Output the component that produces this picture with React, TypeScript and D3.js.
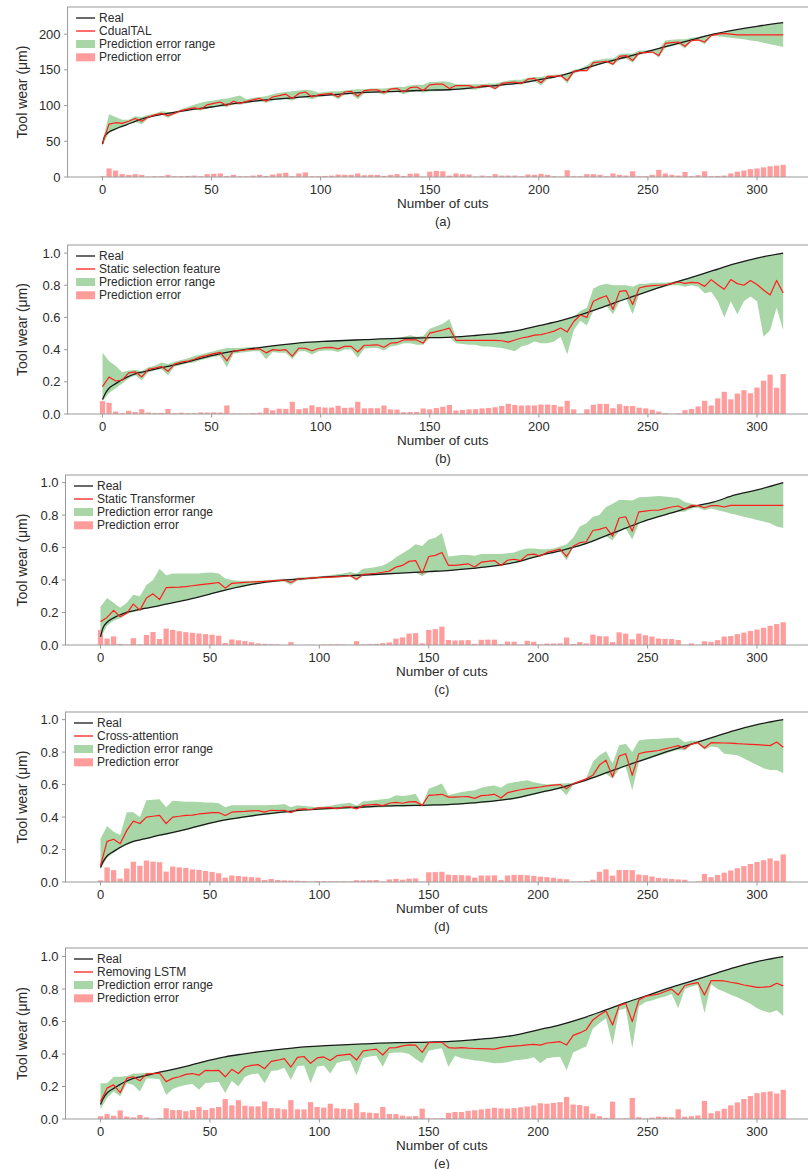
import React from "react";
import * as d3 from "d3";

// cut index of every predicted sample (one sample read every 3 cuts)
const cuts = d3.range(0, 313, 3);

// smooth measured wear curve, read at these cuts
const realCuts = [0, 1, 3, 5, 8, 11, 15, 20, 26, 30, 40, 50, 57, 65, 72, 84, 95, 103, 120, 135, 150, 160, 170, 180, 190, 200, 210, 220, 230, 240, 250, 260, 270, 280, 290, 300, 312];
const realA = [46, 57, 63, 66, 70, 73, 78, 83, 87, 89, 94, 98, 101.5, 104.5, 107, 110, 113, 114.5, 118.5, 120, 121.5, 122.5, 125, 128, 131, 136, 142, 151, 160, 168, 176, 184, 192, 200, 206, 211, 216];
const realNorm = [.09, .12, .16, .18, .205, .228, .25, .265, .285, .296, .327, .362, .383, .40, .413, .432, .446, .452, .462, .47, .474, .478, .487, .499, .518, .549, .58, .62, .667, .716, .762, .807, .849, .892, .934, .969, 1.0];
const realC = [.05, .10, .14, .16, .18, .197, .21, .225, .24, .252, .28, .314, .338, .362, .38, .40, .41, .42, .431, .441, .452, .46, .472, .487, .51, .548, .58, .616, .667, .72, .77, .81, .85, .88, .924, .955, 1.0];

// (a) CdualTAL, in µm
const predA = [
  47, 74, 76, 75, 78, 82, 78, 84, 87, 89,
  86, 89, 93, 95, 97, 95, 101, 103, 105, 100,
  106, 103, 106, 108, 110, 106, 112, 114, 116, 110,
  117, 119, 112, 115, 116, 117, 112, 119, 120, 113,
  121, 122, 122, 118, 123, 124, 119, 125, 126, 121,
  129, 130, 130, 124, 128, 128, 128, 125, 128, 128,
  124, 131, 132, 133, 131, 137, 138, 132, 141, 141,
  142, 135, 148, 149, 149, 160, 161, 162, 158, 169,
  170, 163, 174, 174, 175, 170, 187, 188, 189, 183,
  191, 192, 189, 198, 200, 201, 200, 199, 199, 199,
  199, 199, 199, 199, 199];
const hiA = [
  50, 88, 84, 80, 80, 85, 84, 87, 89, 92,
  91, 91, 95, 98, 101, 104, 106, 107, 109, 110,
  112, 114, 109, 111, 112, 113, 116, 118, 119, 120,
  121, 122, 121, 118, 119, 120, 120, 121, 122, 123,
  123, 124, 124, 124, 125, 126, 126, 128, 129, 129,
  133, 133, 134, 133, 130, 130, 130, 130, 130, 131,
  131, 133, 135, 136, 136, 139, 140, 140, 142, 143,
  144, 145, 150, 152, 156, 163, 164, 166, 166, 172,
  173, 173, 177, 177, 178, 180, 191, 192, 193, 193,
  195, 196, 198, 200, 202, 203, 205, 206.5, 208, 210,
  211, 212.5, 214, 215, 216];
const loA = [
  44, 62, 66, 70, 74, 77, 74, 82, 85, 87,
  83, 88, 91, 93, 94, 93, 96, 98, 99, 98,
  102, 101, 103, 105, 106, 104, 107, 108, 109, 107,
  111, 111, 109, 112, 113, 114, 109, 115, 116, 109,
  117, 118, 118, 115, 119, 119, 116, 119, 120, 118,
  120, 120, 121, 121, 122, 122, 123, 122, 125, 126,
  122, 128, 129, 130, 129, 132, 134, 128, 137, 139,
  141, 131, 145, 148, 148, 155, 157, 160, 156, 164,
  166, 160, 171, 173, 175, 167, 181, 183, 186, 180,
  190, 191, 186, 197, 197, 196, 195, 194, 193, 191,
  190, 188, 186, 184, 182];
const errA = [
  1, 12, 9, 4, 3, 4, 3, 0.5, 1, 1,
  3, 1, 1, 1.5, 2, 1, 4, 4.5, 5, 1.5,
  3, 1, 1, 2, 3, 1.5, 3.5, 5, 6, 1,
  5, 6.5, 1, 1, 1.5, 2, 3.5, 3, 3, 5,
  2.5, 3, 3, 1.5, 3, 4, 1.5, 4.5, 5, 0.5,
  7.5, 8.5, 8, 2, 5, 4, 3.5, 0.5, 2, 1,
  4, 2, 2, 2, 1, 3.5, 3, 4.5, 3, 1,
  0.5, 9.5, 1, 1, 4, 4, 3, 1, 5, 3,
  2, 8, 1, 1, 3, 10, 5, 3, 2, 7,
  1, 2.5, 8, 1, 1.5, 2, 5, 7.5, 9, 11,
  12, 13.5, 15, 16, 17];

// (b) Static selection feature
const predB = [
  .17, .23, .205, .21, .255, .262, .23, .277, .285, .295,
  .265, .31, .323, .328, .34, .355, .364, .375, .383, .33,
  .393, .393, .40, .402, .405, .38, .40, .395, .40, .36,
  .41, .408, .393, .407, .412, .414, .405, .42, .42, .385,
  .427, .428, .43, .415, .44, .443, .46, .46, .46, .44,
  .503, .512, .522, .534, .458, .458, .457, .458, .457, .458,
  .457, .455, .447, .46, .472, .479, .49, .493, .503, .515,
  .534, .51, .575, .615, .60, .70, .72, .735, .65, .762,
  .766, .68, .783, .793, .797, .80, .803, .81, .82, .812,
  .818, .815, .793, .835, .803, .775, .835, .81, .80, .83,
  .805, .77, .74, .83, .752];
const hiB = [
  .38, .33, .30, .26, .27, .275, .265, .29, .30, .32,
  .31, .325, .335, .345, .36, .37, .38, .39, .40, .41,
  .41, .41, .415, .415, .415, .42, .425, .43, .432, .436,
  .44, .444, .447, .45, .452, .454, .456, .458, .46, .461,
  .462, .464, .466, .468, .469, .47, .48, .49, .48, .485,
  .53, .545, .56, .59, .48, .483, .486, .488, .492, .495,
  .499, .505, .51, .516, .524, .533, .543, .552, .562, .571,
  .58, .592, .604, .64, .66, .78, .80, .81, .80, .80,
  .80, .79, .81, .81, .815, .815, .815, .82, .83, .84,
  .849, .862, .875, .888, .9, .913, .926, .937, .948, .959,
  .969, .977, .985, .993, 1.0];
const loB = [
  .08, .13, .16, .19, .22, .24, .21, .26, .27, .28,
  .24, .295, .305, .315, .32, .335, .345, .355, .36, .29,
  .375, .38, .385, .39, .39, .34, .385, .38, .38, .34,
  .39, .39, .37, .39, .395, .395, .385, .40, .40, .35,
  .405, .41, .41, .395, .42, .425, .44, .44, .43, .43,
  .472, .473, .475, .478, .44, .435, .43, .43, .42, .42,
  .415, .41, .40, .39, .42, .43, .45, .44, .44, .45,
  .48, .37, .52, .58, .55, .643, .657, .672, .62, .701,
  .716, .62, .744, .758, .771, .78, .79, .80, .80, .79,
  .80, .79, .75, .76, .70, .60, .70, .62, .70, .73,
  .70, .48, .52, .66, .52];
const errB = [
  .08, .07, .015, .005, .02, .012, .03, .009, .005, .007,
  .031, .005, .008, .005, .005, .01, .009, .01, .009, .053,
  .003, .003, .002, .006, .008, .038, .023, .033, .032, .076,
  .03, .036, .054, .043, .04, .04, .051, .038, .04, .076,
  .035, .036, .036, .053, .029, .027, .011, .012, .013, .034,
  .029, .037, .045, .056, .022, .025, .029, .03, .035, .037,
  .042, .05, .063, .056, .052, .054, .053, .059, .059, .056,
  .046, .082, .029, .001, .029, .057, .063, .063, .036, .061,
  .05, .05, .039, .035, .026, .015, .005, .001, .004, .024,
  .031, .047, .082, .053, .097, .138, .091, .127, .148, .129,
  .164, .207, .245, .163, .248];

// (c) Static Transformer
const predC = [
  .143, .17, .213, .174, .195, .252, .215, .29, .315, .28,
  .353, .355, .357, .36, .365, .37, .375, .38, .385, .35,
  .38, .383, .386, .388, .39, .392, .395, .398, .40, .385,
  .405, .408, .412, .415, .416, .418, .42, .422, .428, .405,
  .435, .438, .442, .448, .455, .48, .49, .515, .52, .44,
  .545, .552, .57, .49, .49, .495, .50, .48, .51, .515,
  .52, .49, .522, .528, .52, .555, .56, .548, .57, .58,
  .59, .545, .608, .63, .636, .705, .712, .725, .67, .782,
  .79, .70, .82, .825, .83, .83, .84, .85, .856, .836,
  .86, .858, .845, .858, .858, .85, .86, .86, .86, .86,
  .86, .86, .86, .86, .86];
const hiC = [
  .236, .29, .26, .23, .26, .31, .30, .37, .40, .47,
  .43, .44, .44, .44, .44, .44, .445, .447, .44, .41,
  .40, .395, .395, .395, .395, .40, .40, .405, .41, .40,
  .415, .418, .42, .422, .425, .43, .435, .44, .45, .44,
  .47, .475, .48, .49, .51, .54, .565, .59, .62, .61,
  .65, .66, .69, .545, .55, .555, .555, .55, .56, .56,
  .56, .56, .565, .57, .585, .595, .595, .59, .59, .595,
  .606, .62, .66, .73, .75, .79, .80, .85, .87, .893,
  .893, .89, .91, .912, .915, .918, .915, .91, .905, .88,
  .87, .862, .868, .877, .888, .902, .915, .927, .936, .946,
  .955, .966, .978, .989, 1.0];
const loC = [
  .04, .12, .15, .165, .19, .205, .21, .225, .232, .24,
  .25, .26, .27, .279, .288, .297, .306, .315, .326, .335,
  .344, .352, .36, .368, .375, .38, .385, .39, .39, .37,
  .398, .40, .404, .408, .41, .412, .415, .418, .42, .395,
  .425, .428, .43, .432, .435, .438, .44, .443, .445, .425,
  .45, .452, .455, .457, .46, .464, .468, .47, .476, .48,
  .485, .485, .50, .506, .514, .527, .538, .545, .558, .568,
  .578, .52, .60, .61, .62, .64, .655, .67, .645, .70,
  .718, .65, .748, .762, .776, .788, .80, .81, .82, .82,
  .84, .845, .83, .84, .83, .82, .81, .80, .79, .78,
  .77, .76, .75, .73, .72];
const errC = [
  .093, .04, .053, .006, .003, .042, .004, .062, .08, .037,
  .101, .093, .085, .079, .075, .071, .067, .063, .057, .012,
  .034, .029, .024, .017, .01, .007, .005, .003, .0, .018,
  .0, .0, .001, .0, .003, .004, .004, .003, .001, .024,
  .004, .005, .007, .011, .016, .039, .047, .07, .073, .01,
  .093, .098, .113, .031, .028, .029, .03, .007, .032, .033,
  .033, .004, .021, .02, .003, .026, .02, .003, .009, .009,
  .01, .046, .006, .018, .01, .064, .055, .053, .018, .078,
  .07, .035, .07, .06, .052, .04, .038, .037, .031, .001,
  .01, .001, .023, .019, .03, .052, .055, .067, .076, .086,
  .095, .106, .118, .129, .14];

// (d) Cross-attention
const predD = [
  .10, .25, .263, .236, .318, .375, .36, .40, .405, .41,
  .36, .40, .405, .41, .412, .419, .423, .427, .428, .41,
  .43, .433, .435, .438, .44, .43, .442, .44, .442, .427,
  .448, .45, .445, .456, .457, .458, .452, .462, .463, .45,
  .472, .475, .478, .47, .485, .49, .485, .493, .495, .472,
  .534, .536, .54, .523, .523, .525, .526, .515, .532, .535,
  .54, .517, .55, .56, .568, .575, .58, .585, .592, .597,
  .60, .575, .606, .62, .635, .657, .72, .75, .647, .775,
  .79, .657, .79, .80, .805, .81, .82, .83, .84, .822,
  .85, .858, .825, .858, .857, .856, .855, .852, .85, .848,
  .846, .843, .84, .862, .83];
const hiD = [
  .267, .345, .31, .29, .43, .43, .40, .503, .506, .51,
  .46, .50, .497, .495, .495, .493, .49, .489, .485, .46,
  .472, .472, .472, .472, .472, .472, .474, .476, .48, .46,
  .472, .468, .465, .462, .465, .47, .478, .483, .488, .47,
  .497, .50, .505, .51, .515, .534, .53, .534, .544, .475,
  .575, .59, .606, .534, .545, .554, .56, .565, .58, .59,
  .595, .58, .606, .615, .62, .626, .615, .606, .60, .603,
  .606, .608, .61, .625, .64, .74, .78, .805, .73, .842,
  .852, .80, .872, .878, .881, .883, .885, .887, .89, .86,
  .872, .868, .875, .888, .9, .913, .926, .937, .948, .959,
  .969, .977, .985, .993, 1.0];
const loD = [
  .08, .15, .18, .21, .23, .245, .255, .265, .275, .283,
  .29, .30, .31, .318, .33, .34, .35, .36, .37, .378,
  .385, .39, .397, .403, .408, .413, .418, .423, .427, .425,
  .435, .438, .44, .443, .445, .447, .448, .45, .452, .448,
  .455, .457, .459, .46, .462, .463, .464, .465, .466, .465,
  .468, .469, .47, .472, .474, .477, .48, .482, .486, .49,
  .494, .50, .505, .51, .518, .527, .537, .546, .556, .565,
  .575, .534, .598, .61, .62, .637, .651, .666, .637, .695,
  .71, .565, .738, .752, .765, .778, .79, .803, .815, .81,
  .842, .85, .815, .835, .83, .79, .785, .78, .76, .74,
  .72, .70, .69, .69, .67];
const errD = [
  .01, .09, .073, .021, .083, .125, .10, .132, .125, .122,
  .064, .095, .09, .087, .077, .074, .068, .062, .054, .027,
  .04, .037, .033, .03, .027, .012, .019, .012, .01, .009,
  .008, .006, .002, .006, .005, .004, .004, .004, .003, .011,
  .01, .011, .012, .002, .016, .02, .014, .021, .022, .002,
  .06, .061, .063, .045, .043, .042, .04, .027, .04, .04,
  .041, .012, .04, .044, .044, .042, .037, .033, .03, .026,
  .02, .017, .002, .004, .006, .014, .063, .078, .039, .074,
  .074, .073, .046, .042, .034, .025, .022, .019, .016, .014,
  .001, .004, .05, .03, .043, .057, .071, .085, .098, .111,
  .123, .134, .145, .131, .17];

// (e) Removing LSTM
const predE = [
  .107, .19, .21, .162, .25, .26, .235, .278, .28, .283,
  .23, .25, .26, .275, .28, .27, .30, .298, .30, .26,
  .306, .28, .32, .33, .335, .31, .355, .362, .372, .32,
  .38, .385, .343, .376, .382, .36, .39, .395, .40, .363,
  .42, .425, .43, .394, .438, .44, .45, .456, .455, .41,
  .47, .471, .472, .44, .437, .44, .436, .434, .433, .432,
  .43, .44, .446, .449, .452, .456, .46, .455, .468, .472,
  .476, .456, .515, .53, .55, .61, .64, .665, .579, .698,
  .712, .60, .733, .755, .762, .77, .785, .80, .764, .822,
  .832, .84, .764, .852, .852, .85, .842, .835, .825, .818,
  .81, .812, .815, .836, .82];
const hiE = [
  .22, .22, .26, .26, .265, .28, .28, .285, .285, .29,
  .296, .305, .315, .323, .335, .345, .355, .365, .374, .383,
  .39, .396, .402, .408, .413, .418, .423, .428, .432, .436,
  .44, .444, .447, .45, .452, .454, .456, .458, .46, .461,
  .462, .464, .466, .468, .469, .47, .471, .472, .473, .474,
  .474, .475, .477, .478, .48, .483, .486, .488, .492, .495,
  .499, .505, .51, .516, .524, .533, .543, .552, .562, .571,
  .58, .592, .604, .616, .629, .643, .657, .672, .686, .701,
  .716, .73, .744, .758, .771, .785, .798, .811, .824, .836,
  .849, .862, .875, .888, .9, .913, .926, .937, .948, .959,
  .969, .977, .985, .993, 1.0];
const loE = [
  .06, .13, .17, .14, .22, .21, .17, .25, .25, .245,
  .148, .185, .20, .21, .215, .18, .222, .225, .23, .16,
  .235, .20, .26, .275, .28, .22, .295, .30, .315, .24,
  .325, .33, .22, .322, .33, .28, .345, .355, .36, .27,
  .375, .385, .39, .322, .405, .41, .41, .40, .37, .343,
  .42, .43, .435, .322, .39, .374, .368, .36, .357, .35,
  .343, .345, .35, .36, .365, .37, .38, .343, .374, .38,
  .384, .30, .41, .43, .446, .558, .59, .62, .456, .67,
  .682, .435, .692, .72, .73, .743, .755, .77, .682, .80,
  .815, .825, .651, .83, .80, .784, .765, .75, .73, .71,
  .682, .665, .655, .67, .634];
const errE = [
  .017, .03, .02, .053, .015, .01, .025, .01, .0, .005,
  .066, .055, .055, .048, .055, .075, .055, .067, .074, .123,
  .084, .116, .082, .078, .078, .108, .068, .066, .06, .116,
  .06, .059, .104, .074, .07, .094, .066, .063, .06, .098,
  .042, .039, .036, .074, .031, .03, .021, .016, .018, .064,
  .004, .004, .005, .038, .043, .043, .05, .054, .059, .063,
  .069, .065, .064, .067, .072, .077, .083, .097, .094, .099,
  .104, .136, .089, .086, .079, .033, .017, .007, .107, .003,
  .004, .13, .011, .003, .009, .015, .013, .011, .06, .014,
  .017, .022, .111, .036, .048, .063, .084, .102, .123, .141,
  .159, .165, .17, .157, .18];

const ticksA = [0, 50, 100, 150, 200];
const ticksNorm = [0, 0.2, 0.4, 0.6, 0.8, 1.0];
const xTicks = [0, 50, 100, 150, 200, 250, 300];

const panels = [
  { tag: "(a)", model: "CdualTAL", real: realA, pred: predA, lo: loA, hi: hiA, err: errA, yTicks: ticksA, fmt: d3.format("d") },
  { tag: "(b)", model: "Static selection feature", real: realNorm, pred: predB, lo: loB, hi: hiB, err: errB, yTicks: ticksNorm, fmt: d3.format(".1f") },
  { tag: "(c)", model: "Static Transformer", real: realC, pred: predC, lo: loC, hi: hiC, err: errC, yTicks: ticksNorm, fmt: d3.format(".1f") },
  { tag: "(d)", model: "Cross-attention", real: realNorm, pred: predD, lo: loD, hi: hiD, err: errD, yTicks: ticksNorm, fmt: d3.format(".1f") },
  { tag: "(e)", model: "Removing LSTM", real: realNorm, pred: predE, lo: loE, hi: hiE, err: errE, yTicks: ticksNorm, fmt: d3.format(".1f") },
];

// where each panel sits on the page
const layout = [
  { top: 7, bottom: 177, x0: 102.5, yMax: 238 },
  { top: 245, bottom: 414, x0: 102.5, yMax: 1.05 },
  { top: 475, bottom: 645, x0: 100.5, yMax: 1.047 },
  { top: 712, bottom: 882, x0: 100.5, yMax: 1.047 },
  { top: 948, bottom: 1119, x0: 100.5, yMax: 1.053 },
];

const FONT = "'Liberation Sans', Arial, Helvetica, sans-serif";
const TEXT = "#2b2b2b";
const SPINE = "#9a9a9a";
const GREEN = "#a9d6a6";
const PINK = "#ff9d9d";
const RED = "#ff1e1e";

function Panel({ p, box, idx }) {
  const k = (757 - box.x0) / 300;
  const x = d3.scaleLinear().domain([-16, 328]).range([box.x0 - 16 * k, box.x0 + 328 * k]);
  const y = d3.scaleLinear().domain([0, box.yMax]).range([box.bottom, box.top]);
  const [x1, x2] = x.range();

  const band = d3.area<number>()
    .x((d) => x(d))
    .y0((_, i) => y(p.lo[i]))
    .y1((_, i) => y(p.hi[i]))(cuts);
  const predPath = d3.line<number>()
    .x((d) => x(d))
    .y((_, i) => y(p.pred[i]))(cuts);
  const realPath = d3.line<number>()
    .x((d) => x(d))
    .y((_, i) => y(p.real[i]))
    .curve(d3.curveMonotoneX)(realCuts);

  const bw = x(3) - x(0) - 1.3;
  const clipId = `plot-clip-${idx}`;
  const midX = (x1 + x2) / 2;
  const midY = (box.top + box.bottom) / 2;
  const legendRows = [11, 24, 37, 50.3].map((d) => box.top + d);
  const hx1 = x1 + 8.5;
  const hx2 = x1 + 27.5;
  const tx = x1 + 31.5;

  return (
    <g>
      <defs>
        <clipPath id={clipId}>
          <rect x={x1} y={box.top} width={x2 - x1} height={box.bottom - box.top} />
        </clipPath>
      </defs>
      <g clipPath={`url(#${clipId})`}>
        {p.err.map((e, i) => (
          <rect
            key={i}
            x={x(cuts[i]) - bw / 2}
            y={y(e)}
            width={bw}
            height={y(0) - y(e)}
            fill={PINK}
          />
        ))}
        <path d={band} fill={GREEN} />
        <path d={realPath} fill="none" stroke="#1a1a1a" strokeWidth={1.3} />
        <path d={predPath} fill="none" stroke={RED} strokeWidth={1.2} strokeLinejoin="round" />
      </g>
      <rect x={x1} y={box.top} width={x2 - x1} height={box.bottom - box.top} fill="none" stroke={SPINE} strokeWidth={1} />

      {p.yTicks.map((t) => (
        <g key={t}>
          <line x1={x1 - 3.5} x2={x1} y1={y(t)} y2={y(t)} stroke={SPINE} />
          <text x={x1 - 7} y={y(t)} textAnchor="end" dominantBaseline="central" fontSize={13} fill={TEXT}>
            {p.fmt(t)}
          </text>
        </g>
      ))}
      {xTicks.map((t) => (
        <g key={t}>
          <line x1={x(t)} x2={x(t)} y1={box.bottom} y2={box.bottom + 3.5} stroke={SPINE} />
          <text x={x(t)} y={box.bottom + 12.5} textAnchor="middle" dominantBaseline="central" fontSize={13} fill={TEXT}>
            {t}
          </text>
        </g>
      ))}
      <text x={midX} y={box.bottom + 26} textAnchor="middle" dominantBaseline="central" fontSize={13.5} fill={TEXT}>
        Number of cuts
      </text>
      <text x={midX} y={box.bottom + 44} textAnchor="middle" dominantBaseline="central" fontSize={13} fill={TEXT}>
        {p.tag}
      </text>
      <text
        transform={`translate(22,${midY}) rotate(-90)`}
        textAnchor="middle"
        dominantBaseline="central"
        fontSize={14}
        fill={TEXT}
      >
        Tool wear (μm)
      </text>

      <line x1={hx1} x2={hx2} y1={legendRows[0]} y2={legendRows[0]} stroke="#1a1a1a" strokeWidth={1.3} />
      <line x1={hx1} x2={hx2} y1={legendRows[1]} y2={legendRows[1]} stroke={RED} strokeWidth={1.3} />
      <rect x={hx1} y={legendRows[2] - 4} width={hx2 - hx1} height={8} fill={GREEN} />
      <rect x={hx1} y={legendRows[3] - 4} width={hx2 - hx1} height={8} fill={PINK} />
      {["Real", p.model, "Prediction error range", "Prediction error"].map((s, i) => (
        <text key={s} x={tx} y={legendRows[i]} dominantBaseline="central" fontSize={12} fill={TEXT}>
          {s}
        </text>
      ))}
    </g>
  );
}

export default function App() {
  return (
    <svg
      width={808}
      height={1169}
      style={{ position: "absolute", left: 0, top: 0, background: "#fff" }}
      fontFamily={FONT}
    >
      <rect width={808} height={1169} fill="#fff" />
      {panels.map((p, i) => (
        <Panel key={p.tag} p={p} box={layout[i]} idx={i} />
      ))}
    </svg>
  );
}
